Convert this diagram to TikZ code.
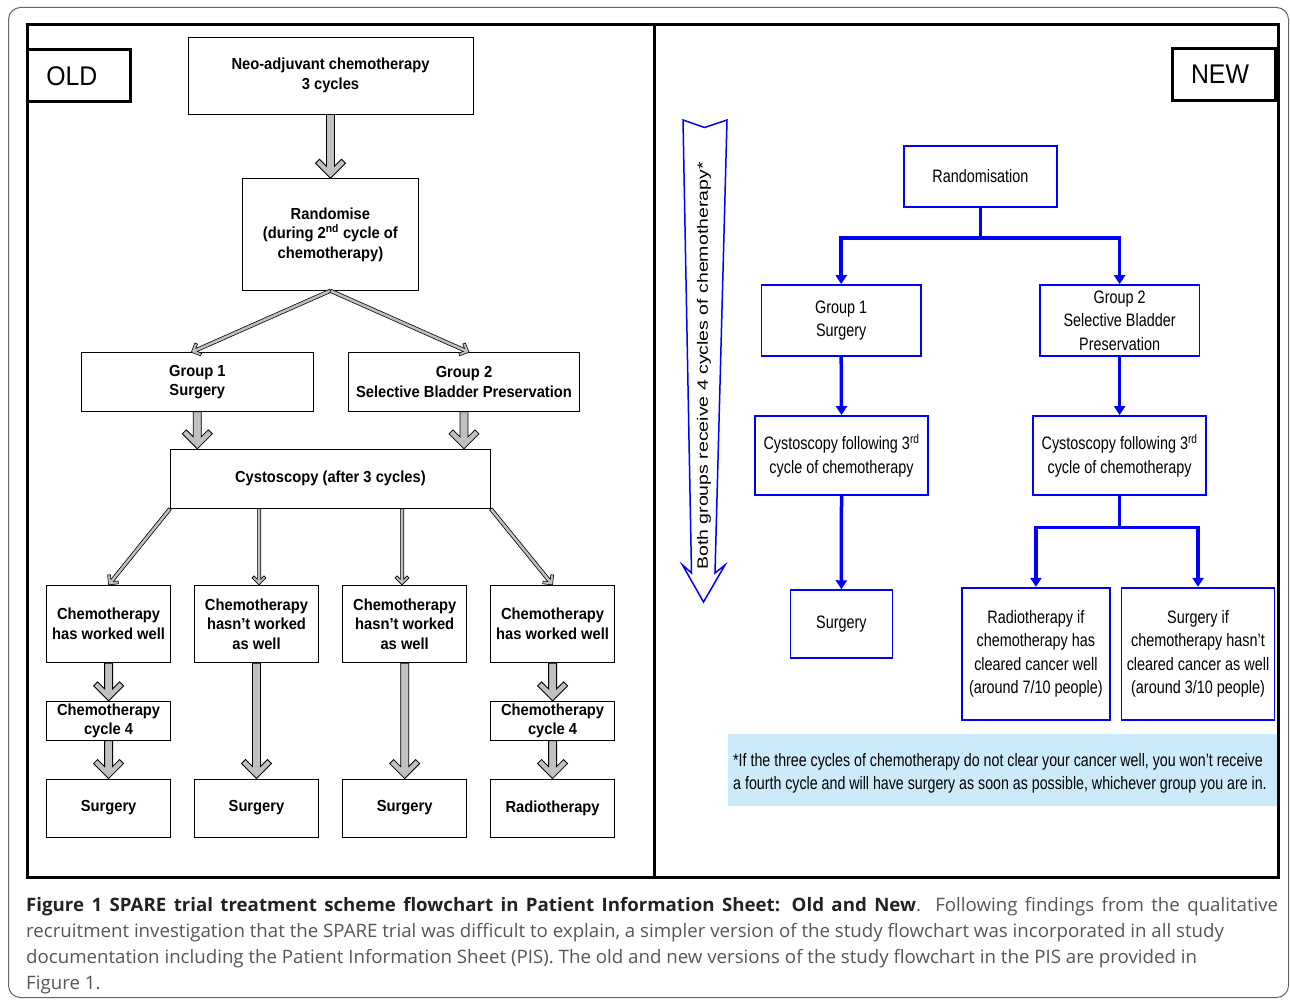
\documentclass[tikz,border=0pt]{standalone}
\usepackage{fontspec}
\setmainfont{Liberation Sans}
\newfontfamily\oldff[FakeStretch=0.92]{Liberation Sans}
\newfontfamily\newff[FakeStretch=0.8]{Liberation Sans}
\newfontfamily\noteff[FakeStretch=0.79]{Liberation Sans}
\newfontfamily\sideff[FakeStretch=1.3]{Liberation Sans}
\newfontfamily\capff[FakeStretch=1.01]{Open Sans}
\usetikzlibrary{calc,arrows.meta}
\definecolor{arrgray}{HTML}{C0C0C0}
\definecolor{notebg}{HTML}{CCEBFA}
\definecolor{capgray}{HTML}{555555}
\definecolor{capblack}{HTML}{222222}
\definecolor{framegray}{HTML}{666666}
\definecolor{pureblue}{HTML}{0000FF}

% thick grey block arrow, vertical, from #1.south to #2.north
\newcommand\garrow[2]{%
  \path[draw=black, line width=0.8pt, fill=arrgray, line join=miter]
    let \p1=(#1.south), \p2=(#2.north) in
    (\x1-4pt,\y1) -- (\x1-4pt,\y2+12pt) -- (\x1-11pt,\y2+19pt) -- (\x1-15pt,\y2+15pt)
    -- (\x1,\y2) -- (\x1+15pt,\y2+15pt) -- (\x1+11pt,\y2+19pt) -- (\x1+4pt,\y2+12pt)
    -- (\x1+4pt,\y1) -- cycle;}

% thin grey block arrow from point #1 to point #2
\newcommand\tarrow[2]{%
  \path let \p1=(#1), \p2=(#2), \n1={atan2(\y2-\y1,\x2-\x1)}, \n2={veclen(\x2-\x1,\y2-\y1)}
    in \pgfextra{\xdef\tarang{\n1}\xdef\tarlen{\n2}};
  \begin{scope}[shift={(#2)}, rotate=\tarang]
    \path[draw=black, line width=0.6pt, fill=arrgray, line join=miter]
      (-\tarlen,1.7) -- (-5.7,1.7) -- (-9,5) -- (-7,7) -- (0,0) -- (-7,-7) -- (-9,-5)
      -- (-5.7,-1.7) -- (-\tarlen,-1.7) -- cycle;
  \end{scope}}

\tikzset{
  sz/.style 2 args={minimum width=#1pt, minimum height=#2pt},
  obox/.style={draw=black, line width=0.9pt, fill=white, align=center, inner sep=0pt,
    font=\oldff\bfseries\fontsize{16}{19.5}\selectfont},
  nbox/.style={draw=pureblue, line width=1.8pt, fill=white, align=center, inner sep=0pt,
    font=\newff\fontsize{18}{23.5}\selectfont},
  tagbox/.style={draw=black, line width=3pt, inner sep=0pt,
    font=\oldff\fontsize{27}{30}\selectfont},
  bconn/.style={draw=pureblue, line width=3.5pt, -{Triangle[length=9pt,width=11pt]}},
}

\begin{document}
\begin{tikzpicture}[x=1pt,y=-1pt]
\useasboundingbox (0,0) rectangle (1290,1000);

% outer frame
\draw[framegray, line width=1pt, rounded corners=12pt] (8.5,7.5) rectangle (1288.5,997.5);

% ---------- OLD ----------
\node[tagbox, sz={103}{52}] (old) at (79.4,76) {\hspace*{-15pt}OLD};

\node[obox, sz={285}{77}] (neo) at (330.5,75.5) {Neo-adjuvant chemotherapy\\3 cycles};
\node[obox, sz={176}{111.6}] (rnd) at (330.4,234.5) {Randomise\\(during 2\textsuperscript{nd} cycle of\\chemotherapy)};
\node[obox, sz={231.4}{58.6}] (g1) at (197.3,382) {Group 1\\Surgery};
\node[obox, sz={231}{58.6}] (g2) at (464,382) {Group 2\\Selective Bladder Preservation};
\node[obox, sz={319.8}{59}] (cy) at (330.4,478.8) {Cystoscopy (after 3 cycles)};

\node[obox, sz={124.6}{77.4}] (r1) at (108.6,624) {Chemotherapy\\has worked well};
\node[obox, sz={124.2}{77.4}] (r2) at (256.5,624) {Chemotherapy\\hasn’t worked\\as well};
\node[obox, sz={124.2}{77.4}] (r3) at (404.7,624) {Chemotherapy\\hasn’t worked\\as well};
\node[obox, sz={124.6}{77.4}] (r4) at (552.6,624) {Chemotherapy\\has worked well};

\node[obox, sz={124.6}{39}] (c1) at (108.6,720.8) {Chemotherapy\\cycle 4};
\node[obox, sz={124.6}{39}] (c4) at (552.6,720.8) {Chemotherapy\\cycle 4};

\node[obox, sz={124.6}{58}] (s1) at (108.6,808) {Surgery};
\node[obox, sz={124.2}{58}] (s2) at (256.5,808) {Surgery};
\node[obox, sz={124.2}{58}] (s3) at (404.7,808) {Surgery};
\node[obox, sz={124.6}{58}] (s4) at (552.6,808) {Radiotherapy};

\garrow{neo}{rnd}
\garrow{g1}{cy}
\garrow{g2}{cy}
\garrow{r1}{c1}
\garrow{c1}{s1}
\garrow{r2}{s2}
\garrow{r3}{s3}
\garrow{r4}{c4}
\garrow{c4}{s4}

\tarrow{rnd.south}{$(g1.north)+(-6,0)$}
\tarrow{rnd.south}{$(g2.north)+(5,0)$}
\tarrow{cy.south west}{r1.north}
\tarrow{$(r2.north |- cy.south)+(2.5,0)$}{$(r2.north)+(2.5,0)$}
\tarrow{$(r3.north |- cy.south)+(-2.7,0)$}{$(r3.north)+(-2.7,0)$}
\tarrow{cy.south east}{r4.north}

% ---------- NEW ----------
\node[fill=notebg, anchor=north west, inner sep=0pt, sz={549.4}{72.4}] (note) at (727.6,733.3) {};
\node[anchor=west, align=left, inner sep=0pt, font=\noteff\fontsize{18}{23}\selectfont] (notetext)
  at ($(note.west)+(5.4,4)$)
  {*If the three cycles of chemotherapy do not clear your cancer well, you won’t receive\\a fourth cycle and will have surgery as soon as possible, whichever group you are in.};

\node[tagbox, sz={103.4}{51.7}] (new) at (1224,74.2) {\hspace*{-8pt}NEW};

\draw[pureblue, line width=1.5pt, fill=white, line join=miter]
  (683,120) -- (704.5,127.5) -- (727,120) -- (715,573) -- (725,565) -- (703.5,602)
  -- (682.5,565) -- (691.5,573) -- cycle;
\node[rotate=90, inner sep=0pt, font=\sideff\fontsize{15}{18}\selectfont] (side) at (704,366)
  {Both groups receive 4 cycles of chemotherapy*};

\node[nbox, sz={153}{61}] (rand) at (980.4,176.2) {Randomisation};
\node[nbox, sz={159.6}{70.7}] (G1) at (841.2,320.4) {Group 1\\Surgery};
\node[nbox, sz={159.6}{70.7}] (G2) at (1119.6,320.4) {Group 2\\Selective Bladder\\Preservation};
\node[nbox, sz={173}{79}] (CY1) at (841.5,455.5) {Cystoscopy following 3\textsuperscript{rd}\\cycle of chemotherapy};
\node[nbox, sz={173.4}{79}] (CY2) at (1119.6,455.5) {Cystoscopy following 3\textsuperscript{rd}\\cycle of chemotherapy};
\node[nbox, sz={102}{67.7}] (SU) at (841.4,624) {Surgery};
\node[nbox, sz={148.2}{132.3}] (RA) at (1035.9,653.9) {Radiotherapy if\\chemotherapy has\\cleared cancer well\\(around 7/10 people)};
\node[nbox, sz={153.1}{132.3}] (SI) at (1198,653.9) {Surgery if\\chemotherapy hasn’t\\cleared cancer as well\\(around 3/10 people)};

\draw[bconn] (rand.south) -- ++(0,30.5) -| (G1.north);
\draw[bconn] (rand.south) -- ++(0,30.5) -| (G2.north);
\draw[bconn] (G1.south) -- (CY1.north);
\draw[bconn] (G2.south) -- (CY2.north);
\draw[bconn] (CY1.south) -- (SU.north);
\draw[bconn] (CY2.south) -- ++(0,31.7) -| (RA.north);
\draw[bconn] (CY2.south) -- ++(0,31.7) -| (SI.north);

% inner frame
\draw[line width=3pt] (27,25) rectangle (1278,877);
\draw[line width=3pt] (654,25) -- (654,877);

% caption
\node[anchor=north west, align=left, inner sep=0pt, text=capgray,
  font=\capff\fontsize{18.5}{26}\selectfont] (cap) at (26,897)
  {\makebox[1252pt][s]{{\color{capblack}\bfseries Figure 1 SPARE trial treatment scheme flowchart in Patient Information Sheet: Old and New}. Following findings from the qualitative}\\
   recruitment investigation that the SPARE trial was difficult to explain, a simpler version of the study flowchart was incorporated in all study\\
   documentation including the Patient Information Sheet (PIS). The old and new versions of the study flowchart in the PIS are provided in\\
   Figure 1.};
\end{tikzpicture}
\end{document}
